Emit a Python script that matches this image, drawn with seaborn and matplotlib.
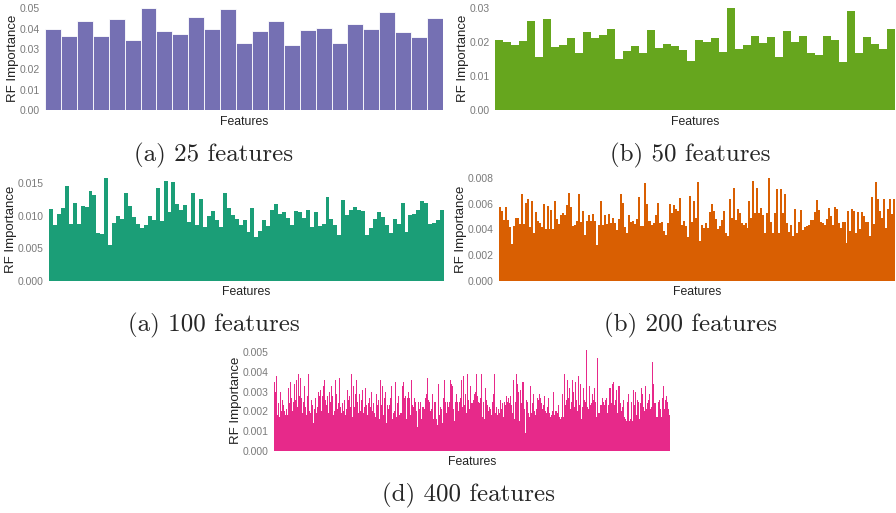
import numpy as np
import matplotlib
matplotlib.use("Agg")
import matplotlib.pyplot as plt
import seaborn as sns

# RF importance values, one list per panel
imp_25 = [0.0398, 0.0364, 0.0438, 0.0364, 0.0448, 0.0344, 0.0503, 0.0389, 0.0374, 0.0459,
          0.0398, 0.0497, 0.0330, 0.0389, 0.0438, 0.0320, 0.0393, 0.0403, 0.0330, 0.0423,
          0.0398, 0.0482, 0.0384, 0.0359, 0.0452]

imp_50 = [0.0207, 0.0201, 0.0192, 0.0204, 0.0263, 0.0155, 0.0269, 0.0186, 0.0192, 0.0212,
          0.0168, 0.0230, 0.0212, 0.0221, 0.0239, 0.0150, 0.0174, 0.0189, 0.0168, 0.0236,
          0.0183, 0.0195, 0.0189, 0.0177, 0.0145, 0.0207, 0.0201, 0.0212, 0.0171, 0.0301,
          0.0180, 0.0192, 0.0218, 0.0198, 0.0215, 0.0156, 0.0233, 0.0201, 0.0218, 0.0168,
          0.0162, 0.0218, 0.0207, 0.0142, 0.0292, 0.0168, 0.0215, 0.0195, 0.0180, 0.0239]

imp_100 = [0.01104, 0.00858, 0.01027, 0.01120, 0.01459, 0.00873, 0.01197, 0.00873, 0.01151, 0.01135,
           0.01382, 0.01320, 0.00735, 0.00720, 0.01582, 0.00550, 0.00889, 0.00997, 0.00950, 0.01351,
           0.01151, 0.00981, 0.00873, 0.00812, 0.00858, 0.00997, 0.00935, 0.01428, 0.00919, 0.01536,
           0.01058, 0.01520, 0.01181, 0.01089, 0.01166, 0.00904, 0.01351, 0.00858, 0.01259, 0.00827,
           0.00997, 0.01074, 0.00935, 0.00827, 0.01351, 0.01120, 0.01012, 0.00950, 0.00858, 0.00935,
           0.00750, 0.01120, 0.00673, 0.00765, 0.00935, 0.00842, 0.01089, 0.01182, 0.01027, 0.01058,
           0.00966, 0.00858, 0.01074, 0.01058, 0.00966, 0.01089, 0.00827, 0.01058, 0.00842, 0.00873,
           0.01289, 0.00950, 0.00858, 0.00704, 0.01243, 0.01012, 0.01089, 0.01135, 0.01089, 0.01074,
           0.00704, 0.00812, 0.00950, 0.01058, 0.00981, 0.00858, 0.00735, 0.00950, 0.00873, 0.01197,
           0.00750, 0.01012, 0.01027, 0.01089, 0.01228, 0.01197, 0.00873, 0.00889, 0.00935, 0.01089]

imp_200 = [0.00576, 0.00545, 0.00474, 0.00576, 0.00474, 0.00420, 0.00287, 0.00427, 0.00490, 0.00490,
           0.00443, 0.00678, 0.00443, 0.00607, 0.00638, 0.00420, 0.00623, 0.00373, 0.00537, 0.00466,
           0.00451, 0.00420, 0.00599, 0.00404, 0.00584, 0.00404, 0.00552, 0.00404, 0.00623, 0.00482,
           0.00443, 0.00513, 0.00529, 0.00513, 0.00592, 0.00685, 0.00576, 0.00427, 0.00435, 0.00466,
           0.00678, 0.00459, 0.00545, 0.00357, 0.00466, 0.00513, 0.00466, 0.00521, 0.00466, 0.00279,
           0.00435, 0.00623, 0.00435, 0.00513, 0.00443, 0.00521, 0.00451, 0.00490, 0.00451, 0.00396,
           0.00482, 0.00678, 0.00607, 0.00420, 0.00373, 0.00513, 0.00459, 0.00466, 0.00443, 0.00482,
           0.00654, 0.00427, 0.00427, 0.00764, 0.00599, 0.00466, 0.00466, 0.00435, 0.00451, 0.00513,
           0.00607, 0.00451, 0.00459, 0.00388, 0.00357, 0.00451, 0.00599, 0.00529, 0.00592, 0.00560,
           0.00545,
           0.00646, 0.00435, 0.00466, 0.00427, 0.00341, 0.00662, 0.00459, 0.00623, 0.00490, 0.00771,
           0.00310, 0.00435, 0.00412, 0.00451, 0.00412, 0.00537, 0.00599, 0.00545, 0.00482, 0.00404,
           0.00427, 0.00474, 0.00545, 0.00373, 0.00349, 0.00638, 0.00490, 0.00724, 0.00474, 0.00560,
           0.00529, 0.00451, 0.00435, 0.00451, 0.00412, 0.00623, 0.00490, 0.00779, 0.00529, 0.00724,
           0.00529, 0.00568, 0.00513, 0.00373, 0.00529, 0.00803, 0.00459, 0.00373, 0.00529, 0.00717,
           0.00373, 0.00717, 0.00529, 0.00678, 0.00451, 0.00380, 0.00435, 0.00349, 0.00560, 0.00373,
           0.00459, 0.00552, 0.00396, 0.00420, 0.00427, 0.00435, 0.00474, 0.00474, 0.00537, 0.00631,
           0.00552, 0.00459, 0.00451, 0.00435, 0.00482, 0.00568, 0.00506, 0.00435, 0.00576, 0.00560,
           0.00451, 0.00412, 0.00459, 0.00459, 0.00294, 0.00545, 0.00388, 0.00560, 0.00545, 0.00373,
           0.00537, 0.00404, 0.00537, 0.00506, 0.00459, 0.00459, 0.00349, 0.00654, 0.00443, 0.00771,
           0.00638, 0.00545, 0.00490, 0.00638, 0.00412, 0.00560, 0.00638, 0.00520, 0.00640]

imp_400 = [0.0035, 0.0030, 0.0038, 0.0018, 0.0024, 0.0017, 0.0030, 0.0020, 0.0026, 0.0023,
           0.0020, 0.0018, 0.0021, 0.0018, 0.0032, 0.0024, 0.0035, 0.0027, 0.0020, 0.0025,
           0.0034, 0.0026, 0.0036, 0.0022, 0.0039, 0.0028, 0.0037, 0.0027, 0.0019, 0.0025,
           0.0033, 0.0022, 0.0018, 0.0028, 0.0039, 0.0020, 0.0019, 0.0026, 0.0023, 0.0014,
           0.0021, 0.0027, 0.0019, 0.0022, 0.0030, 0.0028, 0.0031, 0.0020, 0.0028, 0.0033,
           0.0018, 0.0036, 0.0026, 0.0023, 0.0028, 0.0019, 0.0030, 0.0025, 0.0033, 0.0028,
           0.0018, 0.0020, 0.0036, 0.0029, 0.0021, 0.0024, 0.0037, 0.0022, 0.0019, 0.0024,
           0.0020, 0.0026, 0.0018, 0.0021, 0.0031, 0.0026, 0.0028, 0.0022, 0.0039, 0.0017,
           0.0033, 0.0022, 0.0029, 0.0036, 0.0025, 0.0019, 0.0029, 0.0020, 0.0026, 0.0031,
           0.0019, 0.0022, 0.0032, 0.0023, 0.0018, 0.0024, 0.0027, 0.0022, 0.0030, 0.0020,
           0.0024, 0.0019, 0.0017, 0.0029, 0.0023, 0.0026, 0.0016, 0.0036, 0.0023, 0.0033,
           0.0018, 0.0027, 0.0030, 0.0014, 0.0023, 0.0021, 0.0023, 0.0027, 0.0033, 0.0016,
           0.0019, 0.0020, 0.0035, 0.0017, 0.0024, 0.0028, 0.0018, 0.0019, 0.0019, 0.0033,
           0.0035, 0.0027, 0.0028, 0.0016, 0.0027, 0.0030, 0.0027, 0.0018, 0.0036, 0.0023,
           0.0022, 0.0027, 0.0025, 0.0020, 0.0012, 0.0025, 0.0021, 0.0025, 0.0016, 0.0022,
           0.0026, 0.0022, 0.0021, 0.0027, 0.0029, 0.0037, 0.0026, 0.0025, 0.0020, 0.0021,
           0.0029, 0.0016, 0.0025, 0.0025, 0.0016, 0.0013, 0.0034, 0.0018, 0.0022, 0.0021,
           0.0014, 0.0027, 0.0036, 0.0025, 0.0019, 0.0025, 0.0022, 0.0025, 0.0036, 0.0034,
           0.0033, 0.0021, 0.0015, 0.0025, 0.0029, 0.0025, 0.0020, 0.0025, 0.0027, 0.0036,
           0.0022, 0.0038, 0.0023, 0.0029, 0.0019, 0.0039, 0.0026, 0.0021, 0.0033, 0.0024,
           0.0024, 0.0026, 0.0029, 0.0030, 0.0039, 0.0028, 0.0025, 0.0024, 0.0027, 0.0039,
           0.0017, 0.0025, 0.0016, 0.0032, 0.0026, 0.0023, 0.0020, 0.0022, 0.0021, 0.0018,
           0.0025, 0.0029, 0.0039, 0.0019, 0.0022, 0.0018, 0.0021, 0.0019, 0.0026, 0.0021,
           0.0024, 0.0017, 0.0025, 0.0023, 0.0028, 0.0025, 0.0027, 0.0024, 0.0028, 0.0023,
           0.0019, 0.0036, 0.0016, 0.0025, 0.0039, 0.0034, 0.0030, 0.0015, 0.0031, 0.0024,
           0.0033, 0.0035, 0.0035, 0.0021, 0.0009, 0.0026, 0.0025, 0.0019, 0.0017, 0.0033,
           0.0019, 0.0024, 0.0029, 0.0020, 0.0018, 0.0021, 0.0027, 0.0026, 0.0029, 0.0027,
           0.0024, 0.0021, 0.0023, 0.0028, 0.0020, 0.0019, 0.0022, 0.0027, 0.0019, 0.0017,
           0.0018, 0.0020, 0.0030, 0.0018, 0.0020, 0.0020, 0.0019, 0.0023, 0.0017, 0.0016,
           0.0017, 0.0029, 0.0017, 0.0039, 0.0023, 0.0026, 0.0036, 0.0027, 0.0032, 0.0021,
           0.0025, 0.0036, 0.0030, 0.0022, 0.0035, 0.0026, 0.0020, 0.0038, 0.0023, 0.0034,
           0.0016, 0.0022, 0.0032, 0.0026, 0.0025, 0.0051, 0.0022, 0.0021, 0.0033, 0.0023,
           0.0024, 0.0029, 0.0026, 0.0032, 0.0025, 0.0017, 0.0047, 0.0019, 0.0019, 0.0023,
           0.0023, 0.0027, 0.0025, 0.0023, 0.0026, 0.0027, 0.0019, 0.0023, 0.0032, 0.0032,
           0.0024, 0.0034, 0.0035, 0.0023, 0.0026, 0.0031, 0.0019, 0.0033, 0.0033, 0.0024,
           0.0030, 0.0020, 0.0022, 0.0026, 0.0017, 0.0016, 0.0015, 0.0025, 0.0029, 0.0015,
           0.0016, 0.0025, 0.0015, 0.0031, 0.0023, 0.0030, 0.0018, 0.0026, 0.0025, 0.0016,
           0.0024, 0.0032, 0.0029, 0.0022, 0.0020, 0.0033, 0.0021, 0.0024, 0.0026, 0.0029,
           0.0021, 0.0022, 0.0045, 0.0034, 0.0024, 0.0024, 0.0017, 0.0017, 0.0025, 0.0026,
           0.0021, 0.0017, 0.0027, 0.0033, 0.0021, 0.0026, 0.0028, 0.0025, 0.0021, 0.0018]

ticks_25 = [0.00, 0.01, 0.02, 0.03, 0.04, 0.05]
ticks_50 = [0.00, 0.01, 0.02, 0.03]
ticks_100 = [0.000, 0.005, 0.010, 0.015]
ticks_200 = [0.000, 0.002, 0.004, 0.006, 0.008]
ticks_400 = [0.000, 0.001, 0.002, 0.003, 0.004, 0.005]

captions = ["(a) 25 features", "(b) 50 features", "(a) 100 features",
            "(b) 200 features", "(d) 400 features"]

sns.set_style("white")

W, H = 896, 513
fig = plt.figure(figsize=(W / 100, H / 100), dpi=100)


def panel(box, vals, color, ymax, ticks, fmt, caption, cap_xy, edge=False):
    l, t, r, b = box
    ax = fig.add_axes([l / W, 1 - b / H, (r - l) / W, (b - t) / H])
    sns.barplot(x=np.arange(len(vals)), y=vals, color=color, saturation=1,
                width=1, errorbar=None, ax=ax,
                edgecolor="white" if edge else color,
                linewidth=0.6 if edge else 0)
    ax.set_ylim(0, ymax)
    ax.set_yticks(ticks)
    ax.set_yticklabels([fmt.format(v) for v in ticks], family="Liberation Sans")
    ax.set_xticks([])
    ax.set_xlabel("Features", family="Liberation Sans", fontsize=8.8,
                  color="#222222", labelpad=4)
    ax.set_ylabel("RF Importance", family="Liberation Sans", fontsize=9.5,
                  color="#222222", labelpad=0)
    for s in ax.spines.values():
        s.set_visible(False)
    ax.tick_params(axis="y", length=0, pad=4, labelsize=7.5, labelcolor="#7a7a7a")
    fig.text(cap_xy[0] / W, 1 - cap_xy[1] / H, caption, ha="center", va="center",
             family="cmr10", fontsize=18)
    return ax


panel((45, 7, 443, 110), imp_25, "#7570b3", 0.0506, ticks_25, "{:.2f}",
      captions[0], (214, 155), edge=True)
panel((495, 7, 895, 110), imp_50, "#66a61e", 0.0304, ticks_50, "{:.2f}",
      captions[1], (690, 155))
panel((49, 177, 444, 280.7), imp_100, "#1b9e77", 0.01597, ticks_100, "{:.3f}",
      captions[2], (214, 325))
panel((499, 177, 895, 280.7), imp_200, "#d95f02", 0.0081, ticks_200, "{:.3f}",
      captions[3], (690, 325))
panel((274, 349, 670, 450.7), imp_400, "#e7298a", 0.00517, ticks_400, "{:.3f}",
      captions[4], (468, 495))

fig.savefig("out.png", dpi=100, facecolor="white")
